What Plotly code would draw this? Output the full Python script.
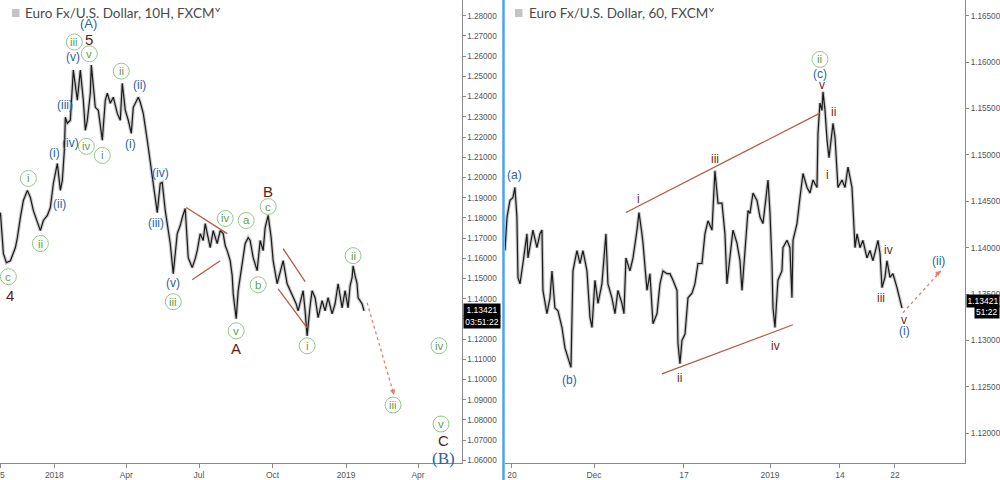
import plotly.graph_objects as go

# ---------------- DATA ----------------
# Left panel: Euro Fx/U.S. Dollar 10H  (x = days since 2018-01-01, y = price)
left_days = [-67.5, -63.75, -60, -55, -48.75, -46.25, -42.5, -38.75, -33.75, -30,
             -26.25, -21.25, -17.5, -13.75, -8.75, -5, -1.25, 3.75, 7.5, 10,
             12.5, 13.75, 16.25, 20, 23.75, 28.75, 32.5, 36.25, 38.75, 41.25,
             45, 46.25, 48.75, 51.25, 55, 60, 63.75, 66.25, 70, 73.75,
             78.75, 82.5, 85, 88.75, 92.5, 96.25, 98.75, 102.5, 105, 107.5,
             111.25, 116.25, 120, 122.5, 126.25, 128.75, 132.5, 135, 138.75, 141.25,
             145, 148.75, 151.25, 153.75, 157.5, 160, 163.75, 167.5, 170, 172.5,
             176.25, 178.75, 182.5, 186.25, 188.75, 192.5, 195, 198.75, 203.75, 207.5,
             211.25, 213.75, 216.25, 220, 222.5, 223.75, 227.5, 230, 232.5, 235,
             238.75, 242.5, 245, 248.75, 253.75, 257.5, 261.25, 263.75, 267.5, 271.25,
             273.75, 278.75, 282.5, 286.25, 291.25, 295, 298.75, 302.5, 305, 311.25,
             313.75, 316.25, 320, 322.5, 326.25, 330, 335, 338.75, 342.5, 347.5,
             351.25, 355, 360, 363.75, 367.5, 370, 372.5, 373.75, 376.25, 378.75,
             380, 382.5, 385, 387.5]
left_close = [1.1826, 1.1623, 1.1578, 1.1588, 1.1653, 1.1702, 1.1802, 1.1886, 1.1936, 1.1901,
              1.1836, 1.1777, 1.1737, 1.1787, 1.1812, 1.1851, 1.1970, 1.2069, 1.1936, 1.1985,
              1.2134, 1.2298, 1.2268, 1.2283, 1.2531, 1.2382, 1.2531, 1.2382, 1.2233, 1.2283,
              1.2417, 1.2556, 1.2432, 1.2347, 1.2332, 1.2184, 1.2382, 1.2417, 1.2367, 1.2397,
              1.2317, 1.2283, 1.2466, 1.2332, 1.2283, 1.2218, 1.2347, 1.2382, 1.2397, 1.2372,
              1.2317, 1.2184, 1.2084, 1.2000, 1.1911, 1.1826, 1.1970, 1.1975, 1.1836, 1.1772,
              1.1673, 1.1524, 1.1638, 1.1722, 1.1762, 1.1802, 1.1846, 1.1603, 1.1578, 1.1554,
              1.1598, 1.1638, 1.1722, 1.1688, 1.1772, 1.1688, 1.1653, 1.1737, 1.1673, 1.1737,
              1.1722, 1.1663, 1.1638, 1.1588, 1.1514, 1.1425, 1.1301, 1.1440, 1.1504, 1.1578,
              1.1673, 1.1702, 1.1688, 1.1603, 1.1539, 1.1688, 1.1638, 1.1752, 1.1812, 1.1702,
              1.1588, 1.1474, 1.1539, 1.1588, 1.1474, 1.1440, 1.1405, 1.1375, 1.1340, 1.1440,
              1.1340, 1.1216, 1.1365, 1.1440, 1.1405, 1.1306, 1.1390, 1.1340, 1.1405, 1.1325,
              1.1375, 1.1474, 1.1355, 1.1440, 1.1355, 1.1464, 1.1504, 1.1563, 1.1514, 1.1474,
              1.1405, 1.1390, 1.1375, 1.1340]
left_tick_days = [-68, 0, 90, 181, 273, 365, 455]
left_tick_text = ["25", "2018", "Apr", "Jul", "Oct", "2019", "Apr"]

# Right panel: Euro Fx/U.S. Dollar 60  (x = trading days since Nov 20, y = price)
right_days = [-0.80, -0.57, -0.23, 0.11, 0.34, 0.57, 0.69, 0.92, 1.26, 1.72,
              1.84, 2.41, 2.87, 3.22, 3.45, 3.56, 4.02, 4.37, 4.60, 4.94,
              5.29, 5.75, 6.09, 6.44, 6.78, 7.01, 7.47, 7.82, 8.16, 8.62,
              8.97, 9.20, 9.54, 9.89, 10.34, 10.80, 11.03, 11.49, 11.84, 12.18,
              12.64, 12.87, 13.10, 13.56, 13.91, 14.37, 14.60, 14.94, 15.06, 15.52,
              15.86, 16.21, 16.67, 17.01, 17.36, 17.82, 18.16, 18.51, 18.97, 19.08,
              19.31, 19.54, 19.89, 20.23, 20.69, 21.03, 21.38, 21.84, 22.18, 22.53,
              22.99, 23.33, 23.56, 23.68, 24.14, 24.48, 24.71, 25.06, 25.40, 25.86,
              26.21, 26.44, 26.78, 27.13, 27.36, 27.70, 28.16, 28.51, 28.85, 29.43,
              29.66, 29.89, 30.00, 30.23, 30.57, 31.03, 31.15, 31.61, 31.95, 32.18,
              32.30, 32.76, 33.10, 33.33, 33.45, 33.91, 34.25, 34.60, 35.06, 35.17,
              35.40, 35.63, 35.75, 35.98, 36.21, 36.44, 36.78, 36.90, 37.13, 37.36,
              37.47, 37.93, 38.28, 38.62, 39.08, 39.43, 39.66, 40.00, 40.34, 40.80,
              41.15, 41.49, 42.07, 42.30, 42.53, 42.87, 43.10, 43.45, 43.79, 44.25,
              44.60, 44.83]
right_close = [1.1397, 1.1433, 1.1451, 1.1454, 1.1465, 1.1433, 1.1368, 1.1361, 1.1383, 1.1415,
               1.1389, 1.1419, 1.1400, 1.1415, 1.1419, 1.1354, 1.1329, 1.1346, 1.1375, 1.1335,
               1.1332, 1.1314, 1.1292, 1.1281, 1.1271, 1.1375, 1.1397, 1.1383, 1.1397, 1.1375,
               1.1325, 1.1314, 1.1365, 1.1340, 1.1361, 1.1415, 1.1361, 1.1346, 1.1329, 1.1354,
               1.1340, 1.1329, 1.1389, 1.1375, 1.1389, 1.1419, 1.1438, 1.1415, 1.1405, 1.1354,
               1.1372, 1.1318, 1.1329, 1.1361, 1.1375, 1.1372, 1.1372, 1.1365, 1.1354, 1.1297,
               1.1275, 1.1300, 1.1307, 1.1346, 1.1351, 1.1361, 1.1383, 1.1383, 1.1415, 1.1429,
               1.1419, 1.1483, 1.1459, 1.1448, 1.1448, 1.1415, 1.1361, 1.1389, 1.1419, 1.1405,
               1.1386, 1.1354, 1.1397, 1.1440, 1.1437, 1.1459, 1.1451, 1.1433, 1.1426, 1.1473,
               1.1437, 1.1383, 1.1335, 1.1314, 1.1365, 1.1375, 1.1400, 1.1408, 1.1400, 1.1346,
               1.1408, 1.1426, 1.1454, 1.1473, 1.1480, 1.1465, 1.1459, 1.1473, 1.1465, 1.1523,
               1.1556, 1.1548, 1.1568, 1.1548, 1.1516, 1.1497, 1.1523, 1.1534, 1.1519, 1.1480,
               1.1465, 1.1473, 1.1465, 1.1487, 1.1465, 1.1400, 1.1415, 1.1400, 1.1408, 1.1389,
               1.1397, 1.1386, 1.1408, 1.1394, 1.1357, 1.1368, 1.1386, 1.1368, 1.1372, 1.1357,
               1.1343, 1.1335]
right_tick_days = [0, 9.43, 19.77, 29.66, 37.7, 44.02]
right_tick_text = ["20", "Dec", "17", "2019", "14", "22"]

last_price = 1.13421
left_countdown = "03:51:22"
right_countdown = "51:22"

# ---------------- STYLE ----------------
GREEN_T = "#5f9f4f"
GREEN_C = "#93c889"
BLUE = "#2d5fa8"
MAROON = "#5a1c17"
MAROON2 = "#6e2a1e"
RED = "#b65a46"
ARROW = "#e2806f"
AX = "#8a8a8a"
SANS = "Liberation Sans, Arial, sans-serif"
TICKFONT = dict(family=SANS, size=8.5, color="#555555")
YTICKFONT = dict(family=SANS, size=8.2, color="#555555")

fig = go.Figure()

for xs, ys, xa, ya in [(left_days, left_close, "x", "y"), (right_days, right_close, "x2", "y2")]:
    fig.add_trace(go.Scatter(x=xs, y=ys, xaxis=xa, yaxis=ya, mode="lines",
                             line=dict(color="rgba(40,40,40,0.25)", width=3.5),
                             hoverinfo="skip", showlegend=False))
    fig.add_trace(go.Scatter(x=xs, y=ys, xaxis=xa, yaxis=ya, mode="lines",
                             line=dict(color="#1a1a1a", width=1.2),
                             showlegend=False))

# wave labels: (text, x, y, style)
left_labels = [
    ("(A)", 42.5, 1.2764, "bigblue"), ("5", 43.75, 1.2682, "bigmaroon"),
    ("iii", 25, 1.2670, "circ"), ("v", 43.75, 1.2612, "circ"), ("(v)", 23.75, 1.2595, "blue"),
    ("ii", 83.75, 1.2526, "circ"), ("(ii)", 106.25, 1.2456, "blue"), ("(iii)", 13.75, 1.2357, "blue"),
    ("(i)", 0, 1.2119, "blue"), ("(iv)", 20, 1.2169, "blue"), ("iv", 40, 1.2154, "circ"),
    ("i", 60, 1.2109, "circ"), ("(i)", 95, 1.2164, "blue"), ("i", -32.5, 1.1995, "circ"),
    ("(ii)", 6.25, 1.1871, "blue"), ("ii", -17.5, 1.1673, "circ"), ("c", -57.5, 1.1509, "circ"),
    ("4", -55, 1.1415, "bigmaroon"), ("(iv)", 132.5, 1.2020, "blue"), ("(iii)", 127.5, 1.1777, "blue"),
    ("(v)", 148.75, 1.1479, "blue"), ("iii", 148.75, 1.1385, "circ"), ("iv", 213.75, 1.1797, "circ"),
    ("a", 240, 1.1787, "circ"), ("b", 255, 1.1469, "circ"), ("v", 227.5, 1.1241, "circ"),
    ("A", 227.5, 1.1152, "bigmaroon"), ("B", 267.5, 1.1931, "bigmaroon"), ("c", 267.5, 1.1856, "circ"),
    ("i", 316.25, 1.1167, "circ"), ("ii", 373.75, 1.1613, "circ"), ("iv", 481.25, 1.1167, "circ"),
    ("iii", 423.75, 1.0874, "circ"), ("v", 483.75, 1.0780, "circ"), ("C", 486.25, 1.0696, "bigmaroon"),
    ("(B)", 486.25, 1.0611, "serifblue"),
]
right_labels = [
    ("(a)", 0.34, 1.1478, "blue"), ("(b)", 6.67, 1.1257, "blue"), ("i", 14.6, 1.1452, "roman"),
    ("ii", 19.31, 1.1260, "roman"), ("iii", 23.33, 1.1496, "roman"), ("iv", 30.34, 1.1294, "roman"),
    ("ii", 35.4, 1.1603, "circ"), ("(c)", 35.4, 1.1587, "blue"), ("v", 35.63, 1.1575, "roman"),
    ("ii", 36.9, 1.1546, "roman"), ("i", 36.32, 1.1478, "roman"), ("iv", 43.33, 1.1398, "roman"),
    ("iii", 42.41, 1.1346, "roman"), ("v", 45.06, 1.1322, "roman"), ("(i)", 45.17, 1.1310, "blue"),
    ("(ii)", 49.08, 1.1386, "blue"),
]

styles = {
    "circ": dict(family=SANS, size=11.5, color=GREEN_T),
    "blue": dict(family=SANS, size=12, color=BLUE),
    "bigblue": dict(family=SANS, size=13, color=BLUE),
    "serifblue": dict(family="Liberation Serif, Times New Roman, serif", size=17, color=BLUE),
    "bigmaroon": dict(family=SANS, size=15, color=MAROON),
    "roman": dict(family=SANS, size=12, color=MAROON2),
}

annotations = []
shapes = []
for labels, xr, yr in [(left_labels, "x", "y"), (right_labels, "x2", "y2")]:
    for txt, lx, ly, st in labels:
        annotations.append(dict(text=txt, x=lx, y=ly, xref=xr, yref=yr, showarrow=False,
                                font=styles[st], xanchor="center", yanchor="middle", borderpad=0))
        if st == "circ":
            shapes.append(dict(type="circle", xref=xr, yref=yr, xsizemode="pixel", ysizemode="pixel",
                               xanchor=lx, yanchor=ly, x0=-8, x1=8, y0=-8, y1=8,
                               line=dict(color=GREEN_C, width=1)))

# trend / wedge lines (data coordinates)
left_lines = [((165, 1.1851), (216.25, 1.1722)), ((172.5, 1.1494), (207.5, 1.1588)),
              ((286.25, 1.1648), (313.75, 1.1484)), ((280, 1.1449), (316.25, 1.1256))]
right_lines = [((13.1, 1.1438), (35.4, 1.1545)), ((17.24, 1.1264), (32.3, 1.1317))]
for lines, xr, yr in [(left_lines, "x", "y"), (right_lines, "x2", "y2")]:
    for (xa, ya), (xb, yb) in lines:
        shapes.append(dict(type="line", xref=xr, yref=yr, x0=xa, y0=ya, x1=xb, y1=yb,
                           line=dict(color=RED, width=1.3)))

# projected dotted arrows
arrows = [((391.25, 1.1380), (425, 1.0924), "x", "y", -2.3, -7.7),
          ((44.94, 1.1330), (49.31, 1.1375), "x2", "y2", -7.0, 5.3)]
for (xa, ya), (xb, yb), xr, yr, axp, ayp in arrows:
    shapes.append(dict(type="line", xref=xr, yref=yr, x0=xa, y0=ya, x1=xb, y1=yb,
                       line=dict(color=ARROW, width=1.3, dash="dot")))
    annotations.append(dict(x=xb, y=yb, xref=xr, yref=yr, ax=axp, ay=ayp, text="",
                            showarrow=True, arrowhead=2, arrowsize=0.9, arrowwidth=1.2,
                            arrowcolor=ARROW))

# price & countdown boxes
box_font = dict(family=SANS, size=8.5, color="white")
annotations += [
    dict(text="%.5f" % last_price, x=0.4625, y=last_price, xref="paper", yref="y", xanchor="left",
         yanchor="middle", showarrow=False, bgcolor="black", font=box_font, borderpad=1, width=34),
    dict(text=left_countdown, x=0.4625, y=last_price, xref="paper", yref="y", xanchor="left",
         yanchor="middle", yshift=-12, showarrow=False, bgcolor="black", font=box_font, borderpad=1, width=34),
    dict(text="%.5f" % last_price, x=0.966, y=last_price, xref="paper", yref="y2", xanchor="left",
         yanchor="middle", showarrow=False, bgcolor="black", font=box_font, borderpad=1, width=30),
    dict(text=right_countdown, x=1.0, y=last_price, xref="paper", yref="y2", xanchor="right",
         yanchor="middle", yshift=-11, showarrow=False, bgcolor="black", font=box_font, borderpad=1),
]

# titles
title_font = dict(family="Lato, Open Sans, sans-serif", size=13.5, color="#4a4a4a")
annotations += [
    dict(text="Euro Fx/U.S. Dollar, 10H, FXCM˅", x=0.023, y=1 - 13 / 480, xref="paper", yref="paper",
         xanchor="left", yanchor="middle", showarrow=False, font=title_font),
    dict(text="Euro Fx/U.S. Dollar, 60, FXCM˅", x=0.527, y=1 - 13 / 480, xref="paper", yref="paper",
         xanchor="left", yanchor="middle", showarrow=False, font=title_font),
]
for x0 in (0.012, 0.515):
    shapes.append(dict(type="rect", xref="paper", yref="paper", x0=x0, x1=x0 + 0.0075,
                       y0=1 - 17 / 480, y1=1 - 9 / 480, fillcolor="#c4c4c4", line=dict(width=0)))

# blue panel separator
shapes.append(dict(type="line", xref="paper", yref="paper", x0=0.5035, x1=0.5035, y0=0, y1=1,
                   line=dict(color="#4aa3f0", width=2.5)))

ydom = [17 / 480, 1]
fig.update_layout(
    width=1000, height=480, margin=dict(l=0, r=0, t=0, b=0, autoexpand=False),
    paper_bgcolor="white", plot_bgcolor="white", showlegend=False,
    annotations=annotations, shapes=shapes,
    xaxis=dict(domain=[0, 0.4615], range=[-68, 509.4], tickvals=left_tick_days, ticktext=left_tick_text,
               showgrid=False, zeroline=False, showline=True, linecolor=AX, ticks="outside",
               ticklen=4, tickcolor=AX, tickfont=TICKFONT, anchor="y", ticklabeloverflow="allow",
               automargin=False),
    yaxis=dict(domain=ydom, range=[1.0587, 1.2878], side="right", anchor="x", tick0=1.06, dtick=0.01,
               tickformat=".5f", showgrid=False, zeroline=False, showline=True, linecolor=AX,
               ticks="outside", ticklen=3, tickcolor=AX, tickfont=YTICKFONT, automargin=False),
    xaxis2=dict(domain=[0.505, 0.965], range=[-0.8, 52.07], tickvals=right_tick_days, ticktext=right_tick_text,
                showgrid=False, zeroline=False, showline=True, linecolor=AX, ticks="outside",
                ticklen=4, tickcolor=AX, tickfont=TICKFONT, anchor="y2", automargin=False),
    yaxis2=dict(domain=ydom, range=[1.1168, 1.1667], side="right", anchor="x2", tick0=1.12, dtick=0.005,
                tickformat=".5f", showgrid=False, zeroline=False, showline=True, linecolor=AX,
                ticks="outside", ticklen=3, tickcolor=AX, tickfont=YTICKFONT, automargin=False),
)

fig.write_html("out.html")
